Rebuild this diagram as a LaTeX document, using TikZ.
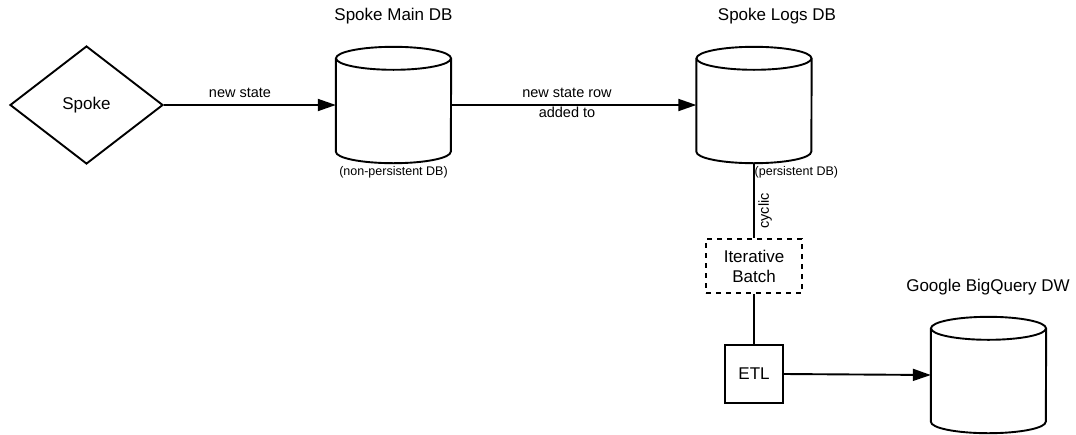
\documentclass[tikz,border=0pt]{standalone}
\usepackage{fontspec}
\setmainfont{Liberation Sans}
\usetikzlibrary{shapes.geometric,arrows.meta,calc}

% Database cylinder drawn around a (borderless) rectangular node
\newcommand{\dbshape}[1]{%
  \draw[shapeline] ($(#1.north)+(0,-11.5)$) ellipse [x radius=57.5pt, y radius=11.5pt];
  \draw[shapeline] ($(#1.north west)+(0,-11.5)$) -- ($(#1.south west)+(0,11.5)$)
    arc [start angle=180, end angle=360, x radius=57.5pt, y radius=11.5pt]
    -- ($(#1.north east)+(0,-11.5)$);
}

\tikzset{
  shapeline/.style={line width=1.9pt, black},
  dbbox/.style={draw=none, minimum width=115pt, minimum height=116pt, inner sep=0pt},
  bigtext/.style={font=\fontsize{17}{20}\selectfont},
  edgetext/.style={font=\fontsize{14.5}{20}\selectfont, inner sep=0pt},
  notetext/.style={font=\fontsize{12.5}{15}\selectfont, inner sep=0pt},
  flow/.style={line width=1.9pt, -{Triangle[length=18pt,width=12pt]}},
  link/.style={line width=1.6pt},
  boxnode/.style={shapeline, draw, minimum width=58pt, minimum height=58pt, inner sep=0pt, bigtext},
}

\begin{document}
\begin{tikzpicture}[x=1pt,y=1pt]
\useasboundingbox (0,0) rectangle (1076,-434);

% Source
\node[diamond, draw, shapeline, minimum width=153pt, minimum height=118pt,
      aspect=1.3, inner sep=0pt, bigtext] (spoke) at (86.5,-105) {Spoke};

% Databases
\node[dbbox] (main) at (393.5,-105) {};
\dbshape{main}
\node[bigtext] (maint) at (393.5,-16) {Spoke Main DB};
\node[notetext] (mainn) at (393.5,-172) {(non-persistent DB)};

\node[dbbox] (logs) at (754,-105) {};
\dbshape{logs}
\node[bigtext] (logst) at (777,-16) {Spoke Logs DB};
\node[notetext, anchor=west] (logsn) at (754.5,-172) {(persistent DB)};

\node[dbbox] (bq) at (988.5,-375) {};
\dbshape{bq}
\node[bigtext] (bqt) at (988,-287) {Google BigQuery DW};

% Processing steps
\node[draw, line width=1.9pt, dash pattern=on 5pt off 5pt, minimum width=96pt,
      minimum height=54pt, inner sep=0pt, align=center, bigtext] (batch) at (754,-266)
      {Iterative\\Batch};
\node[boxnode] (etl) at (754,-374) {ETL};

% Connectors
\draw[flow] (spoke.east) -- (main.west);
\node[edgetext] (l1) at (240,-93) {new state};

\draw[flow] (main.east) -- (logs.west);
\node[edgetext, align=center] (l2) at (567,-103) {new state row\\added to};

\draw[link] (logs.south) -- (batch.north);
\node[edgetext, rotate=90] (l3) at (765,-211) {cyclic};

\draw[link] (batch.south) -- (etl.north);
\draw[flow] (etl.east) -- (bq.west);
\end{tikzpicture}
\end{document}
